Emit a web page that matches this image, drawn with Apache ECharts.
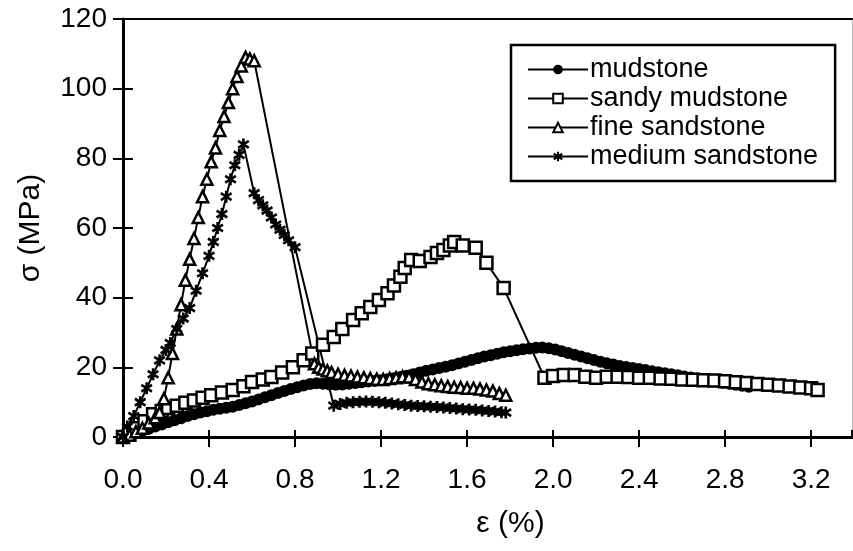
<!DOCTYPE html>
<html><head><meta charset="utf-8">
<script src="https://cdn.jsdelivr.net/npm/echarts@6/dist/echarts.min.js"></script>
<style>html,body{margin:0;padding:0;background:#fff}#c{width:853px;height:551px}</style>
</head><body><div id="c"></div>
<script>
const xTicks = ['0.0','0.4','0.8','1.2','1.6','2.0','2.4','2.8','3.2'];
const yTicks = ['0','20','40','60','80','100','120'];
const seriesNames = ['mudstone','sandy mudstone','fine sandstone','medium sandstone'];

const mudStrain = [0.00,0.03,0.06,0.09,0.12,0.15,0.18,0.21,0.24,0.27,0.30,0.33,0.36,0.39,0.42,0.45,0.48,0.51,0.54,0.57,0.60,0.63,0.66,0.69,0.72,0.75,0.78,0.81,0.84,0.87,0.90,0.93,0.96,0.99,1.02,1.05,1.08,1.11,1.14,1.17,1.20,1.23,1.26,1.29,1.32,1.35,1.38,1.41,1.44,1.47,1.50,1.53,1.56,1.59,1.62,1.65,1.68,1.71,1.74,1.77,1.80,1.83,1.86,1.89,1.92,1.95,1.98,2.01,2.04,2.07,2.10,2.13,2.16,2.19,2.22,2.25,2.28,2.31,2.34,2.37,2.40,2.43,2.46,2.49,2.52,2.55,2.58,2.61,2.64,2.67,2.70,2.73,2.76,2.79,2.82,2.85,2.88,2.91];
const mudStress = [0,0.6,1.2,1.8,2.4,3.0,3.6,4.2,4.8,5.4,6.0,6.5,7.0,7.4,7.8,8.1,8.4,8.7,9.2,9.7,10.2,10.8,11.4,12.0,12.6,13.2,13.8,14.3,14.8,15.2,15.4,15.3,15.1,15.0,15.1,15.3,15.5,15.7,15.9,16.1,16.3,16.6,16.9,17.2,17.6,18.0,18.5,19.0,19.4,19.8,20.2,20.6,21.1,21.6,22.1,22.6,23.1,23.5,23.9,24.3,24.6,24.9,25.2,25.4,25.6,25.7,25.5,25.1,24.6,24.1,23.6,23.1,22.6,22.1,21.6,21.2,20.8,20.4,20.1,19.8,19.5,19.2,18.9,18.6,18.3,18.0,17.7,17.4,17.1,16.8,16.5,16.2,15.9,15.6,15.3,15.0,14.7,14.4];

const sandyStrain = [0.00,0.03,0.06,0.10,0.14,0.18,0.21,0.25,0.29,0.33,0.37,0.41,0.46,0.51,0.56,0.60,0.65,0.69,0.74,0.79,0.84,0.88,0.93,0.98,1.02,1.07,1.11,1.15,1.19,1.23,1.26,1.29,1.31,1.34,1.38,1.43,1.46,1.49,1.52,1.54,1.58,1.64,1.69,1.77,1.96,2.00,2.05,2.10,2.15,2.20,2.25,2.30,2.35,2.40,2.45,2.50,2.55,2.60,2.65,2.70,2.75,2.80,2.85,2.90,2.95,3.00,3.05,3.10,3.15,3.20,3.23];
const sandyStress = [0,1.0,2.5,4.5,6.5,7.5,8.3,9.0,9.8,10.5,11.3,12.0,12.8,13.5,14.6,15.8,16.5,17.2,18.5,20.0,22.0,24.0,26.5,28.7,31.0,33.6,35.5,37.3,39.3,41.3,43.5,46.0,48.5,50.8,50.5,51.7,52.8,53.7,55.0,56.0,55.0,54.3,50.0,42.8,17.0,17.5,17.8,17.8,17.3,17.0,17.3,17.3,17.2,17.0,17.0,16.8,16.7,16.5,16.4,16.3,16.2,16.0,15.7,15.5,15.2,15.0,14.8,14.5,14.2,14.0,13.5];

const fineStrain = [0.00,0.03,0.06,0.09,0.12,0.15,0.17,0.19,0.21,0.23,0.25,0.27,0.29,0.31,0.33,0.35,0.37,0.39,0.41,0.43,0.45,0.47,0.49,0.51,0.53,0.55,0.57,0.59,0.61,0.89,0.91,0.93,0.95,0.97,1.00,1.03,1.06,1.09,1.12,1.15,1.18,1.21,1.24,1.27,1.30,1.33,1.36,1.39,1.42,1.45,1.48,1.51,1.54,1.57,1.60,1.63,1.66,1.69,1.72,1.75,1.78];
const fineStress = [0,0.5,1.5,2.5,4.0,5.5,7.0,11,17,24,31,38,45,51,57,63,69,74,79,83,88,92,96,100,103.5,106.5,109,108.5,108,21,20,19.5,19,18.5,18,17.7,17.5,17.2,17,16.8,16.6,16.5,16.8,17,17.3,17.2,16.5,15.8,15.3,15,14.7,14.5,14.3,14.2,14,14,13.8,13.5,13.2,12.5,12];

const mediumStrain = [0.00,0.02,0.05,0.08,0.11,0.14,0.17,0.20,0.22,0.25,0.28,0.31,0.34,0.37,0.40,0.42,0.44,0.46,0.48,0.50,0.52,0.54,0.56,0.61,0.63,0.65,0.67,0.69,0.71,0.73,0.75,0.77,0.80,0.98,1.01,1.04,1.07,1.10,1.13,1.16,1.19,1.22,1.25,1.28,1.31,1.34,1.37,1.40,1.43,1.46,1.49,1.52,1.55,1.58,1.61,1.64,1.67,1.70,1.73,1.76,1.78];
const mediumStress = [0,3,6,10,14,18,22,25,27,31,34,37,42,47,52,56,60,64,69,74,78,81,84,70,68,66.5,65,63,61,59.5,58,56.5,54.5,9.0,9.5,9.8,10.0,10.1,10.2,10.1,10.0,9.8,9.6,9.4,9.2,9.0,8.9,8.8,8.7,8.6,8.5,8.3,8.2,8.0,7.9,7.8,7.6,7.5,7.3,7.1,7.0];

function zip(a,b){return a.map((v,i)=>[v,b[i]]);}

const asterisk = 'path://M3.9,0L6.1,0L6.1,10L3.9,10ZM0,3.1L1.1,1.2L10,6.9L8.9,8.8ZM0,6.9L8.9,1.2L10,3.1L1.1,8.8Z';
const FONT = 'Liberation Sans, Arial, sans-serif';

const chart = echarts.init(document.getElementById('c'), null, {renderer:'canvas'});
function ser(name, data, symbol, size, filled){
  return {
    name, type:'line', data, symbol, symbolSize:size, showSymbol:true,
    lineStyle:{color:'#000', width:2},
    itemStyle:{color: filled ? '#000' : '#fff', borderColor:'#000', borderWidth: filled ? 0 : 2.5},
    emphasis:{disabled:true}, animation:false, z:3
  };
}
chart.setOption({
  animation:false,
  grid:{left:123, top:19, right:1, bottom:114, containLabel:false},
  xAxis:[{
    type:'value', min:0, max:3.39, interval:0.4,
    axisLine:{show:true, onZero:false, lineStyle:{color:'#000', width:3}},
    axisTick:{show:true, length:10, lineStyle:{color:'#000', width:2}},
    axisLabel:{show:true, margin:29, fontSize:28, color:'#000', fontFamily:FONT,
      showMaxLabel:false,
      formatter:function(v){const i=Math.round(v/0.4); return (Math.abs(v-i*0.4)<1e-6 && i<xTicks.length)? xTicks[i] : '';}},
    splitLine:{show:false},
    name:'ε (%)', nameLocation:'middle', nameGap:72,
    nameTextStyle:{fontSize:30, color:'#000', fontFamily:FONT, padding:[0,0,0,46]}
  },{
    type:'value', min:0, max:3.39, interval:0.4, position:'bottom',
    axisLine:{show:false}, axisTick:{show:true, inside:true, length:7, lineStyle:{color:'#000', width:2}},
    axisLabel:{show:false}, splitLine:{show:false}
  },{
    type:'value', min:0, max:3.39, position:'top',
    axisLine:{show:true, onZero:false, lineStyle:{color:'#000', width:2}},
    axisTick:{show:false}, axisLabel:{show:false}, splitLine:{show:false}
  }],
  yAxis:[{
    type:'value', min:0, max:120, interval:20,
    axisLine:{show:true, onZero:false, lineStyle:{color:'#000', width:3}},
    axisTick:{show:true, length:10, lineStyle:{color:'#000', width:2}},
    axisLabel:{margin:16, fontSize:28, color:'#000', fontFamily:FONT,
      formatter:function(v){const i=Math.round(v/20); return yTicks[i];}},
    splitLine:{show:false},
    name:'σ (MPa)', nameLocation:'middle', nameGap:77,
    nameTextStyle:{fontSize:30, color:'#000', fontFamily:FONT}
  },{
    type:'value', min:0, max:120, interval:20, position:'left',
    axisLine:{show:false}, axisTick:{show:true, inside:true, length:10, lineStyle:{color:'#000', width:2}},
    axisLabel:{show:false}, splitLine:{show:false}
  },{
    type:'value', min:0, max:120, position:'right',
    axisLine:{show:true, onZero:false, lineStyle:{color:'#bbb', width:1}},
    axisTick:{show:false}, axisLabel:{show:false}, splitLine:{show:false}
  }],
  legend:{
    orient:'vertical', left:511, top:45,
    backgroundColor:'#fff', borderColor:'#000', borderWidth:2.5,
    padding:[11,17,11,16], itemGap:2, itemWidth:60, itemHeight:12,
    textStyle:{fontSize:27, color:'#000', fontFamily:FONT, padding:[0,0,0,-3]},
    data:seriesNames
  },
  series:[
    ser(seriesNames[0], zip(mudStrain, mudStress), 'circle', 12, true),
    ser(seriesNames[1], zip(sandyStrain, sandyStress), 'rect', 12, false),
    ser(seriesNames[2], zip(fineStrain, fineStress), 'triangle', 11, false),
    ser(seriesNames[3], zip(mediumStrain, mediumStress), asterisk, 12, true)
  ]
});
</script></body></html>
